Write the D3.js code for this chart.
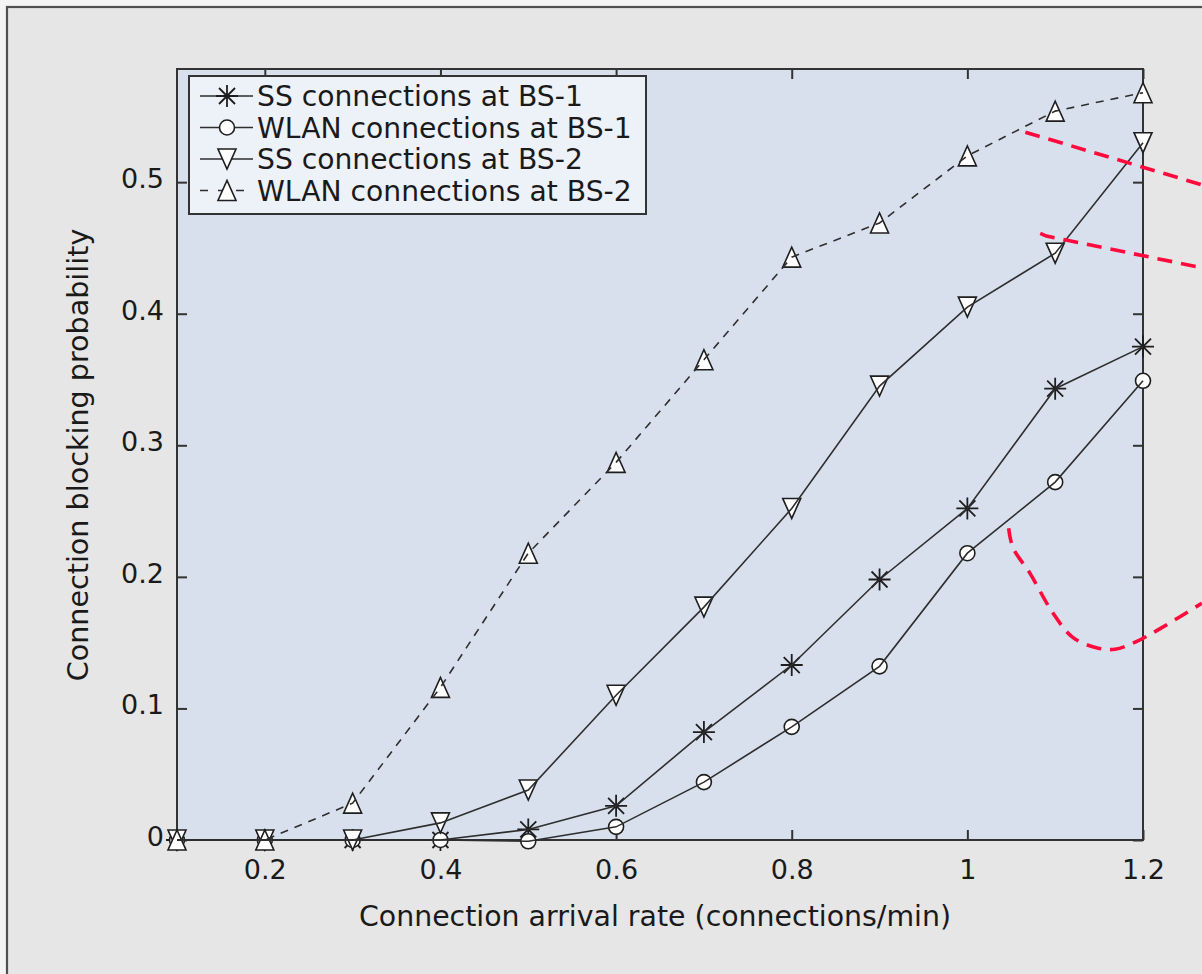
<!DOCTYPE html>
<html>
<head>
<meta charset="utf-8">
<script src="https://cdn.jsdelivr.net/npm/d3@7"></script>
<style>
  html, body { margin: 0; padding: 0; background: #f4f4f4; }
  svg { display: block; }
  text { font-family: "DejaVu Sans", "Open Sans", sans-serif; fill: #1a1a1a; }
</style>
</head>
<body>
<svg id="chart" width="1202" height="974"></svg>
<script>
// Connection arrival rate (connections/min)
const arrivalRate = [0.1, 0.2, 0.3, 0.4, 0.5, 0.6, 0.7, 0.8, 0.9, 1.0, 1.1, 1.2];

// Connection blocking probability per series
const ssBS1   = [0, 0, 0, 0, 0.008, 0.026, 0.082, 0.133, 0.198, 0.252, 0.343, 0.375];
const wlanBS1 = [0, 0, 0, 0, -0.001, 0.010, 0.044, 0.086, 0.132, 0.218, 0.272, 0.349];
const ssBS2   = [0, 0, 0, 0.013, 0.038, 0.110, 0.177, 0.252, 0.345, 0.405, 0.446, 0.530];
const wlanBS2 = [0, 0, 0.028, 0.116, 0.218, 0.287, 0.365, 0.443, 0.469, 0.520, 0.554, 0.568];

const seriesNames = [
  "SS connections at BS-1",
  "WLAN connections at BS-1",
  "SS connections at BS-2",
  "WLAN connections at BS-2"
];

const xTicks = [0.2, 0.4, 0.6, 0.8, 1.0, 1.2];
const xTickLabels = ["0.2", "0.4", "0.6", "0.8", "1", "1.2"];
const yTicks = [0, 0.1, 0.2, 0.3, 0.4, 0.5];
const yTickLabels = ["0", "0.1", "0.2", "0.3", "0.4", "0.5"];

// Red dashed callout strokes (data units), running off the right edge
const callout1 = [[1.066, 0.538], [1.267, 0.498]];
const callout2 = [[1.083, 0.461], [1.090, 0.459], [1.267, 0.435]];
const callout3 = [[1.047, 0.237], [1.052, 0.222], [1.071, 0.203], [1.097, 0.173],
                  [1.120, 0.154], [1.148, 0.146], [1.168, 0.145], [1.193, 0.151],
                  [1.223, 0.162], [1.267, 0.180]];

const svg = d3.select("#chart");
const FONT = "'DejaVu Sans', 'Open Sans', sans-serif";

// Figure panel
svg.append("rect")
  .attr("x", 7).attr("y", 7).attr("width", 1230).attr("height", 1000)
  .attr("fill", "#e6e6e6").attr("stroke", "#505050").attr("stroke-width", 2.2);

const plot = { left: 177, right: 1143, top: 69, bottom: 840 };

const x = d3.scaleLinear().domain([0.1, 1.2]).range([plot.left, plot.right]);
const y = d3.scaleLinear().domain([0, 0.586]).range([plot.bottom, plot.top]);

// Axes background
svg.append("rect")
  .attr("x", plot.left).attr("y", plot.top)
  .attr("width", plot.right - plot.left).attr("height", plot.bottom - plot.top)
  .attr("fill", "#d9e0ed");

const tickLen = 10;
const axisColor = "#333";

// Inward ticks on all four sides
function styleAxis(g) {
  g.select(".domain").remove();
  g.selectAll(".tick line").attr("stroke", axisColor).attr("stroke-width", 2);
  g.selectAll(".tick text").attr("font-size", 27).attr("fill", "#1a1a1a")
    .attr("font-family", FONT);
}

svg.append("g")
  .attr("transform", `translate(0,${plot.bottom})`)
  .call(d3.axisBottom(x).tickValues(xTicks)
    .tickFormat((d, i) => xTickLabels[i]).tickSizeInner(-tickLen).tickSizeOuter(0).tickPadding(20))
  .call(styleAxis);

svg.append("g")
  .attr("transform", `translate(0,${plot.top})`)
  .call(d3.axisTop(x).tickValues(xTicks).tickFormat("").tickSizeInner(-tickLen).tickSizeOuter(0))
  .call(styleAxis);

svg.append("g")
  .attr("transform", `translate(${plot.left},0)`)
  .call(d3.axisLeft(y).tickValues(yTicks)
    .tickFormat((d, i) => yTickLabels[i]).tickSizeInner(-tickLen).tickSizeOuter(0).tickPadding(13))
  .call(styleAxis)
  .call(g => g.selectAll(".tick text").attr("dy", "0.2em"));

svg.append("g")
  .attr("transform", `translate(${plot.right},0)`)
  .call(d3.axisRight(y).tickValues(yTicks).tickFormat("").tickSizeInner(-tickLen).tickSizeOuter(0))
  .call(styleAxis);

// Axes box
svg.append("rect")
  .attr("x", plot.left).attr("y", plot.top)
  .attr("width", plot.right - plot.left).attr("height", plot.bottom - plot.top)
  .attr("fill", "none").attr("stroke", axisColor).attr("stroke-width", 2);

// Axis titles
svg.append("text")
  .attr("x", 655).attr("y", 926)
  .attr("text-anchor", "middle").attr("font-size", 28.4)
  .text("Connection arrival rate (connections/min)");

svg.append("text")
  .attr("transform", `translate(88,455) rotate(-90)`)
  .attr("text-anchor", "middle").attr("font-size", 28.6)
  .text("Connection blocking probability");

// Marker shapes
const markerStroke = "#1e1e1e";
function drawMarker(g, type, cx, cy) {
  if (type === "star") {
    const r = 11, d = 8;
    const p = `M${cx - r},${cy}L${cx + r},${cy}M${cx},${cy - r}L${cx},${cy + r}` +
              `M${cx - d},${cy - d}L${cx + d},${cy + d}M${cx - d},${cy + d}L${cx + d},${cy - d}`;
    g.append("path").attr("d", p).attr("stroke", markerStroke).attr("stroke-width", 1.8).attr("fill", "none");
  } else if (type === "circle") {
    g.append("circle").attr("cx", cx).attr("cy", cy).attr("r", 7.5)
      .attr("fill", "#fff").attr("stroke", markerStroke).attr("stroke-width", 1.6);
  } else if (type === "down") {
    const w = 9, h = 10;
    g.append("path").attr("d", `M${cx - w},${cy - h}L${cx + w},${cy - h}L${cx},${cy + h}Z`)
      .attr("fill", "#fff").attr("stroke", markerStroke).attr("stroke-width", 1.6);
  } else if (type === "up") {
    const w = 9, h = 10;
    g.append("path").attr("d", `M${cx - w},${cy + h}L${cx + w},${cy + h}L${cx},${cy - h}Z`)
      .attr("fill", "#fff").attr("stroke", markerStroke).attr("stroke-width", 1.6);
  }
}

const series = [
  { name: seriesNames[0], values: ssBS1,   marker: "star",   dash: null },
  { name: seriesNames[1], values: wlanBS1, marker: "circle", dash: null },
  { name: seriesNames[2], values: ssBS2,   marker: "down",   dash: null },
  { name: seriesNames[3], values: wlanBS2, marker: "up",     dash: "8,7" }
];

const line = d3.line().x(d => x(d[0])).y(d => y(d[1]));
const lineColor = "#2e2e2e";

const markersG = svg.append("g");
series.forEach(s => {
  s.values.forEach((v, i) => drawMarker(markersG, s.marker, x(arrivalRate[i]), y(v)));
});

const linesG = svg.append("g");
series.forEach(s => {
  linesG.append("path")
    .attr("d", line(arrivalRate.map((a, i) => [a, s.values[i]])))
    .attr("fill", "none").attr("stroke", lineColor).attr("stroke-width", 1.6)
    .attr("stroke-dasharray", s.dash);
});

// Legend
const legend = { x: 189, y: 76, w: 457, h: 138 };
svg.append("rect")
  .attr("x", legend.x).attr("y", legend.y).attr("width", legend.w).attr("height", legend.h)
  .attr("fill", "#edf1f8").attr("stroke", axisColor).attr("stroke-width", 2);

series.forEach((s, i) => {
  const cy = 96 + i * 31.5;
  const g = svg.append("g");
  g.append("line")
    .attr("x1", 200).attr("x2", 253).attr("y1", cy).attr("y2", cy)
    .attr("stroke", lineColor).attr("stroke-width", 1.6)
    .attr("stroke-dasharray", s.dash ? "8,10" : null);
  drawMarker(g, s.marker, 227, cy);
  g.append("text")
    .attr("x", 257).attr("y", cy).attr("dy", "0.36em")
    .attr("font-size", 28.2)
    .text(s.name);
});

// Callouts
const callLine = d3.line().x(d => x(d[0])).y(d => y(d[1]));
const calloutG = svg.append("g")
  .attr("fill", "none").attr("stroke", "#ff0a3c").attr("stroke-width", 3.6)
  .attr("stroke-dasharray", "15,9");
calloutG.append("path").attr("d", callLine(callout1));
calloutG.append("path").attr("d", callLine(callout2));
calloutG.append("path").attr("d", callLine.curve(d3.curveCatmullRom)(callout3));
</script>
</body>
</html>
